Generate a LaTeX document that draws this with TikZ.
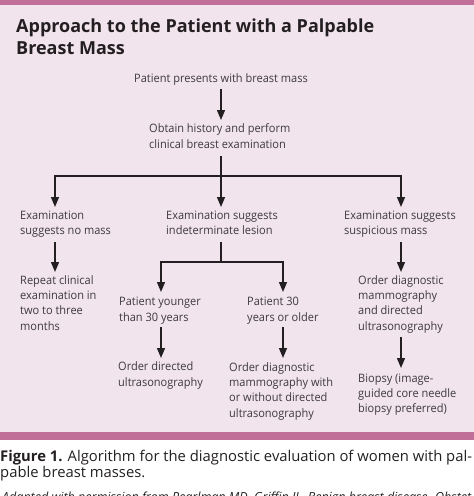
\documentclass[tikz,border=0pt]{standalone}
\usepackage{fontspec}
\setmainfont{Open Sans}
\newfontfamily\bodyfont{Open Sans}[FakeStretch=0.95]
\usetikzlibrary{arrows.meta}
\definecolor{bgpink}{RGB}{241,228,237}
\definecolor{barmag}{RGB}{192,112,152}
\definecolor{txt}{RGB}{62,58,60}
\definecolor{ink}{RGB}{35,31,32}
\begin{document}
\begin{tikzpicture}[x=1pt,y=-1pt,
  lbl/.style={anchor=base west, align=left, inner sep=0pt, text=txt,
    font=\bodyfont\fontsize{11.6}{15.3}\selectfont},
  arr/.style={draw=ink, line width=1.3pt, -{Triangle[length=10pt,width=8pt]}},
  ln/.style={draw=ink, line width=1.3pt},
  ttl/.style={anchor=base west, align=left, inner sep=0pt, text=ink,
    font=\fontsize{18}{22}\selectfont\bfseries},
  capt/.style={anchor=base west, align=left, inner sep=0pt, text=ink,
    font=\fontsize{14.8}{16}\selectfont}]
\useasboundingbox (0,0) rectangle (474,496);
\fill[bgpink] (0,0) rectangle (474,432);
\fill[barmag] (0,0) rectangle (474,5);
\fill[barmag] (0,432) rectangle (474,440);

% (multi-line nodes: base anchor = baseline of the last line)
\node[ttl] (title) at (16,54) {Approach to the Patient with a Palpable\\Breast Mass};

\node[lbl, anchor=base] (p1) at (221,82.5) {Patient presents with breast mass};
\node[lbl] (p2) at (149,148) {Obtain history and perform\\clinical breast examination};

\node[lbl] (e1) at (20,234.3) {Examination\\suggests no mass};
\node[lbl] (e2) at (166,234.3) {Examination suggests\\indeterminate lesion};
\node[lbl] (e3) at (344,234.3) {Examination suggests\\suspicious mass};

\node[lbl] (r1) at (20,330) {Repeat clinical\\examination in\\two to three\\months};
\node[lbl] (y1) at (119,321) {Patient younger\\than 30 years};
\node[lbl] (o1) at (247,321) {Patient 30\\years or older};
\node[lbl] (m1) at (358,330) {Order diagnostic\\mammography\\and directed\\ultrasonography};

\node[lbl] (u1) at (118,386) {Order directed\\ultrasonography};
\node[lbl] (u2) at (229,417) {Order diagnostic\\mammography with\\or without directed\\ultrasonography};
\node[lbl] (b1) at (358,412.6) {Biopsy (image-\\guided core needle\\biopsy preferred)};

% connector points
\coordinate (a1s) at (221,89);   \coordinate (a1e) at (221,120);
\coordinate (a2s) at (221,156);  \coordinate (j1) at (221,176);
\coordinate (j1l) at (55,176);   \coordinate (j1r) at (401,176);
\coordinate (t1) at (55,207);    \coordinate (t2) at (221,207);  \coordinate (t3) at (401,207);
\coordinate (b1s) at (55,242);   \coordinate (b1e) at (55,272);
\coordinate (b2s) at (221,242);  \coordinate (j2) at (221,262);
\coordinate (j2l) at (161,262);  \coordinate (j2r) at (283,262);
\coordinate (t4) at (161,292);   \coordinate (t5) at (283,292);
\coordinate (b3s) at (401,242);  \coordinate (b3e) at (401,272);
\coordinate (c1s) at (161,327);  \coordinate (c1e) at (161,358);
\coordinate (c2s) at (283,327);  \coordinate (c2e) at (283,358);
\coordinate (c3s) at (401,337);  \coordinate (c3e) at (401,368);

\draw[arr] (a1s) -- (a1e);
\draw[ln] (a2s) -- (j1);
\draw[ln, line cap=rect] (j1l) -- (j1r);
\draw[arr] (j1l) -- (t1);
\draw[arr] (j1) -- (t2);
\draw[arr] (j1r) -- (t3);
\draw[arr] (b1s) -- (b1e);
\draw[ln] (b2s) -- (j2);
\draw[ln, line cap=rect] (j2l) -- (j2r);
\draw[arr] (j2l) -- (t4);
\draw[arr] (j2r) -- (t5);
\draw[arr] (b3s) -- (b3e);
\draw[arr] (c1s) -- (c1e);
\draw[arr] (c2s) -- (c2e);
\draw[arr] (c3s) -- (c3e);

\node[capt] (fig) at (0,477) {\textbf{Figure 1.} Algorithm for the diagnostic evaluation of women with pal-\\pable breast masses.};
\node[anchor=base west, inner sep=0pt, text=ink, font=\fontsize{12.5}{14}\selectfont\itshape] (src) at (2,501) {Adapted with permission from Pearlman MD, Griffin JL. Benign breast disease. Obstet};
\end{tikzpicture}
\end{document}
